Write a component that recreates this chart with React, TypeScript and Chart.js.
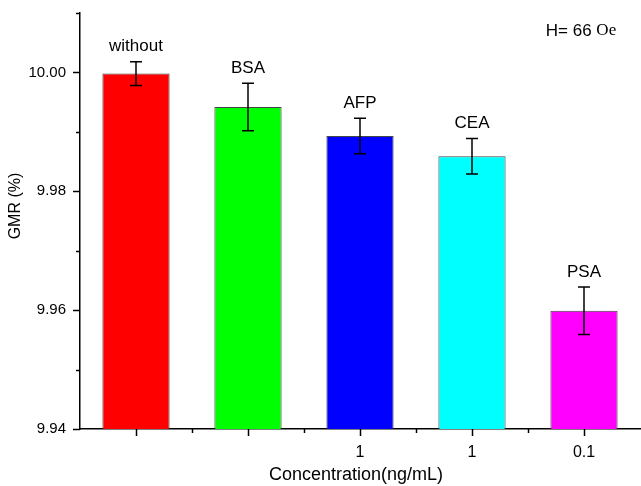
import React, { useEffect, useRef } from "react";
import { Chart, registerables } from "chart.js";

Chart.register(...registerables);

const categories = ["without", "BSA", "AFP", "CEA", "PSA"];
const tickLabels = ["", "", "1", "1", "0.1"];
const gmrValues = [9.9998, 9.9942, 9.9893, 9.9859, 9.9599];
const errorValues = [0.002, 0.004, 0.003, 0.003, 0.004];
const barColors = ["#ff0000", "#00ff00", "#0000ff", "#00ffff", "#ff00ff"];

const SANS = "'Liberation Sans', Arial, sans-serif";
const SERIF = "'Liberation Serif', 'Times New Roman', serif";

const overlayPlugin = {
  id: "overlay",
  afterDraw(chart: any) {
    const ctx = chart.ctx;
    const xs = chart.scales.x;
    const ys = chart.scales.y;
    ctx.save();
    ctx.strokeStyle = "#000";
    ctx.fillStyle = "#000";

    // y ticks
    ctx.lineWidth = 1.5;
    ys.ticks.forEach((t: any) => {
      const py = Math.round(ys.getPixelForValue(t.value)) + 0.5;
      const major = Math.round(t.value * 100) % 2 === 0;
      const len = major ? 7 : 4;
      ctx.beginPath();
      ctx.moveTo(xs.left - len, py);
      ctx.lineTo(xs.left, py);
      ctx.stroke();
    });

    // x ticks
    const n = categories.length;
    for (let i = 0; i < n; i++) {
      const px = Math.round(xs.getPixelForValue(i)) + 0.5;
      ctx.beginPath();
      ctx.moveTo(px, ys.bottom);
      ctx.lineTo(px, ys.bottom + 7);
      ctx.stroke();
      if (i < n - 1) {
        const mx = Math.round((xs.getPixelForValue(i) + xs.getPixelForValue(i + 1)) / 2) + 0.5;
        ctx.beginPath();
        ctx.moveTo(mx, ys.bottom);
        ctx.lineTo(mx, ys.bottom + 4);
        ctx.stroke();
      }
    }

    // error bars and labels
    ctx.lineWidth = 1.5;
    ctx.font = `17px ${SANS}`;
    ctx.textAlign = "center";
    ctx.textBaseline = "middle";
    for (let i = 0; i < n; i++) {
      const px = xs.getPixelForValue(i);
      const top = ys.getPixelForValue(gmrValues[i] + errorValues[i]);
      const bot = ys.getPixelForValue(gmrValues[i] - errorValues[i]);
      ctx.beginPath();
      ctx.moveTo(px, top);
      ctx.lineTo(px, bot);
      ctx.moveTo(px - 6, top);
      ctx.lineTo(px + 6, top);
      ctx.moveTo(px - 6, bot);
      ctx.lineTo(px + 6, bot);
      ctx.stroke();
      ctx.fillText(categories[i], px, top - 15);
    }

    // axis titles
    ctx.font = `16px ${SANS}`;
    ctx.save();
    ctx.translate(16, 206);
    ctx.rotate(-Math.PI / 2);
    ctx.fillText("GMR (%)", 0, 0);
    ctx.restore();

    ctx.font = `18px ${SANS}`;
    ctx.fillText("Concentration(ng/mL)", 356, 475);

    // field annotation
    ctx.textAlign = "left";
    ctx.font = `17px ${SANS}`;
    const part1 = "H= 66 ";
    const w1 = ctx.measureText(part1).width;
    ctx.font = `17px ${SERIF}`;
    const w2 = ctx.measureText("Oe").width;
    const startX = 581 - (w1 + w2) / 2;
    ctx.font = `17px ${SANS}`;
    ctx.fillText(part1, startX, 31);
    ctx.font = `17px ${SERIF}`;
    ctx.fillText("Oe", startX + w1, 31);

    ctx.restore();
  },
};

export default function App() {
  const canvasRef = useRef<HTMLCanvasElement | null>(null);

  useEffect(() => {
    if (!canvasRef.current) return;
    const chart = new Chart(canvasRef.current, {
      type: "bar",
      data: {
        labels: categories,
        datasets: [
          {
            data: gmrValues,
            backgroundColor: barColors,
            borderColor: "#444444",
            borderWidth: 1,
            barPercentage: 0.6,
            categoryPercentage: 1,
          },
        ],
      },
      options: {
        animation: false,
        responsive: false,
        devicePixelRatio: 1,
        layout: { padding: { top: 13, right: 1, left: 0, bottom: 0 } },
        plugins: {
          legend: { display: false },
          tooltip: { enabled: false },
        },
        scales: {
          x: {
            type: "category",
            offset: true,
            grid: { display: false },
            border: { display: true, color: "#000", width: 1.5 },
            ticks: {
              color: "#000",
              font: { family: SANS, size: 16 },
              padding: 6,
              maxRotation: 0,
              autoSkip: false,
              callback: (_v: any, i: number) => tickLabels[i],
            },
            afterFit: (s: any) => {
              s.height = 57;
              s.paddingLeft = 0;
              s.paddingRight = 0;
            },
          },
          y: {
            min: 9.94,
            max: 10.01,
            grid: { display: false },
            border: { display: true, color: "#000", width: 1.5 },
            ticks: {
              stepSize: 0.01,
              color: "#000",
              font: { family: SANS, size: 15 },
              padding: 6,
              callback: (v: any) => (Math.round(Number(v) * 100) % 2 === 0 ? Number(v).toFixed(2) : ""),
            },
            afterFit: (s: any) => {
              s.width = 80;
              s.paddingTop = 0;
              s.paddingBottom = 0;
            },
          },
        },
      },
      plugins: [overlayPlugin],
    } as any);
    return () => chart.destroy();
  }, []);

  return (
    <div style={{ position: "absolute", left: 0, top: 0, width: 641, height: 486, background: "#fff" }}>
      <canvas ref={canvasRef} width={641} height={486} style={{ display: "block" }} />
    </div>
  );
}
